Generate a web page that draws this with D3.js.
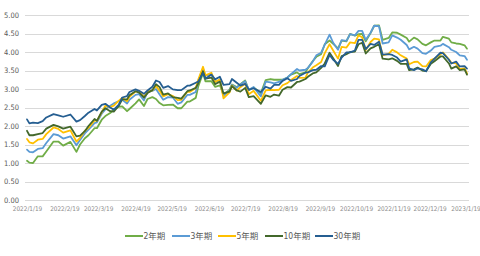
<!DOCTYPE html>
<html><head><meta charset="utf-8">
<script src="https://cdn.jsdelivr.net/npm/d3@7"></script>
<style>
html,body{margin:0;padding:0;background:#fff;}
svg{display:block;}
</style></head>
<body>
<svg id="chart" width="480" height="256"></svg>
<script>
const dates = ["2022-01-19","2022-01-21","2022-01-24","2022-01-28","2022-02-01","2022-02-04","2022-02-10","2022-02-14","2022-02-18","2022-02-24","2022-03-01","2022-03-04","2022-03-08","2022-03-11","2022-03-16","2022-03-18","2022-03-22","2022-03-25","2022-03-29","2022-04-01","2022-04-05","2022-04-08","2022-04-12","2022-04-14","2022-04-19","2022-04-22","2022-04-26","2022-04-29","2022-05-03","2022-05-06","2022-05-09","2022-05-12","2022-05-16","2022-05-20","2022-05-24","2022-05-27","2022-06-01","2022-06-03","2022-06-08","2022-06-10","2022-06-14","2022-06-16","2022-06-21","2022-06-24","2022-06-28","2022-07-01","2022-07-06","2022-07-08","2022-07-12","2022-07-15","2022-07-19","2022-07-22","2022-07-26","2022-08-01","2022-08-05","2022-08-09","2022-08-12","2022-08-16","2022-08-19","2022-08-23","2022-08-26","2022-08-31","2022-09-02","2022-09-07","2022-09-09","2022-09-13","2022-09-16","2022-09-20","2022-09-23","2022-09-27","2022-09-30","2022-10-04","2022-10-07","2022-10-11","2022-10-14","2022-10-18","2022-10-21","2022-10-24","2022-10-27","2022-10-31","2022-11-03","2022-11-07","2022-11-10","2022-11-15","2022-11-18","2022-11-22","2022-11-25","2022-11-30","2022-12-02","2022-12-06","2022-12-09","2022-12-13","2022-12-16","2022-12-20","2022-12-23","2022-12-28","2022-12-30","2023-01-04","2023-01-06","2023-01-10","2023-01-13","2023-01-17","2023-01-19"];

const y2 = [1.06,1.01,1.00,1.18,1.18,1.31,1.58,1.58,1.47,1.57,1.30,1.50,1.67,1.75,1.94,1.94,2.17,2.27,2.35,2.44,2.52,2.53,2.40,2.46,2.61,2.72,2.54,2.73,2.78,2.73,2.62,2.56,2.57,2.58,2.48,2.48,2.66,2.66,2.76,3.06,3.43,3.21,3.21,3.06,3.10,2.84,2.98,3.12,3.05,3.13,3.23,2.97,3.04,2.89,3.24,3.27,3.25,3.25,3.25,3.31,3.39,3.45,3.40,3.45,3.56,3.75,3.87,3.94,4.21,4.31,4.22,4.10,4.31,4.29,4.49,4.44,4.48,4.49,4.29,4.51,4.71,4.72,4.33,4.38,4.53,4.52,4.47,4.38,4.28,4.39,4.34,4.22,4.18,4.26,4.31,4.31,4.41,4.36,4.26,4.23,4.22,4.18,4.09];
const y3 = [1.36,1.30,1.29,1.38,1.40,1.54,1.78,1.75,1.66,1.72,1.48,1.62,1.80,1.90,2.08,2.10,2.33,2.45,2.55,2.61,2.67,2.71,2.61,2.71,2.84,2.86,2.69,2.92,2.95,3.00,2.85,2.71,2.78,2.77,2.60,2.64,2.84,2.84,2.92,3.20,3.56,3.36,3.40,3.19,3.24,2.82,2.96,3.11,3.03,3.12,3.21,2.98,3.05,2.80,3.20,3.18,3.15,3.19,3.25,3.31,3.40,3.54,3.50,3.52,3.57,3.74,3.91,3.98,4.20,4.47,4.25,4.06,4.32,4.30,4.48,4.45,4.57,4.57,4.33,4.52,4.71,4.70,4.23,4.26,4.45,4.39,4.33,4.19,4.07,4.14,4.09,3.97,3.95,4.04,4.14,4.17,4.22,4.13,4.06,4.00,3.91,3.89,3.79];
const y5 = [1.65,1.56,1.53,1.63,1.65,1.78,1.96,1.92,1.82,1.88,1.58,1.68,1.87,1.95,2.15,2.14,2.37,2.55,2.51,2.55,2.68,2.76,2.67,2.79,2.93,2.94,2.78,2.92,2.96,3.08,2.95,2.80,2.86,2.81,2.70,2.71,2.93,2.92,3.03,3.25,3.60,3.37,3.44,3.19,3.26,2.75,2.91,3.09,2.96,3.05,3.14,2.86,2.95,2.68,2.96,2.98,2.97,2.98,3.10,3.16,3.24,3.35,3.30,3.31,3.45,3.58,3.64,3.73,3.97,4.21,4.04,3.82,4.14,4.12,4.26,4.24,4.45,4.40,4.05,4.27,4.36,4.34,3.91,3.95,4.06,3.99,3.91,3.82,3.67,3.73,3.74,3.62,3.61,3.78,3.82,3.94,3.99,3.80,3.71,3.69,3.54,3.56,3.42];
const y10 = [1.87,1.75,1.75,1.78,1.81,1.93,2.03,1.99,1.93,1.98,1.72,1.74,1.86,2.00,2.19,2.14,2.39,2.48,2.40,2.39,2.54,2.72,2.72,2.83,2.94,2.90,2.77,2.89,2.97,3.13,3.05,2.85,2.88,2.78,2.76,2.74,2.94,2.96,3.03,3.15,3.48,3.28,3.31,3.13,3.20,2.88,2.93,3.08,2.96,2.93,3.03,2.78,2.81,2.60,2.83,2.79,2.85,2.82,2.98,3.05,3.04,3.19,3.20,3.27,3.33,3.42,3.45,3.57,3.69,3.98,3.83,3.62,3.89,3.94,4.00,4.01,4.21,4.25,3.96,4.10,4.14,4.21,3.82,3.80,3.83,3.76,3.68,3.68,3.51,3.53,3.58,3.50,3.48,3.68,3.75,3.88,3.88,3.69,3.55,3.61,3.51,3.53,3.39];
const y30 = [2.18,2.07,2.09,2.08,2.13,2.23,2.32,2.29,2.25,2.31,2.12,2.16,2.27,2.36,2.46,2.42,2.57,2.60,2.50,2.44,2.57,2.77,2.81,2.92,2.99,2.95,2.87,2.96,3.06,3.23,3.19,3.03,3.08,2.99,2.97,2.97,3.09,3.09,3.17,3.20,3.43,3.28,3.39,3.26,3.33,3.11,3.13,3.27,3.17,3.09,3.14,2.98,3.02,2.92,3.06,3.01,3.11,3.11,3.22,3.29,3.22,3.27,3.35,3.44,3.45,3.51,3.52,3.62,3.61,3.92,3.79,3.68,3.85,3.99,3.99,4.04,4.33,4.33,4.08,4.22,4.19,4.28,3.93,3.94,3.92,3.85,3.74,3.80,3.56,3.51,3.56,3.53,3.48,3.72,3.82,3.98,3.97,3.79,3.69,3.74,3.61,3.62,3.55];

const seriesNames = ["2年期","3年期","5年期","10年期","30年期"];
const seriesValues = [y2, y3, y5, y10, y30];
const colors = ["#70AD47","#5B9BD5","#FFC000","#43682B","#255E91"];
const yTicks = [0,0.5,1,1.5,2,2.5,3,3.5,4,4.5,5];
const xTickLabels = ["2022/1/19","2022/2/19","2022/3/19","2022/4/19","2022/5/19","2022/6/19","2022/7/19","2022/8/19","2022/9/19","2022/10/19","2022/11/19","2022/12/19","2023/1/19"];

const parse = d3.timeParse("%Y-%m-%d");
const parseLbl = d3.timeParse("%Y/%m/%d");
const svg = d3.select("#chart");
const font = "'Liberation Sans Narrow','DejaVu Sans Condensed','Noto Sans CJK SC',sans-serif";

const x = d3.scaleTime().domain([parse("2022-01-19"), parse("2023-01-19")]).range([27, 467]);
const y = d3.scaleLinear().domain([0,5]).range([200, 15]);

// gridlines
svg.append("g").selectAll("line").data(yTicks).join("line")
  .attr("x1", 25).attr("x2", 469)
  .attr("y1", d => Math.round(y(d)) + 0.5).attr("y2", d => Math.round(y(d)) + 0.5)
  .attr("stroke", "#D9D9D9").attr("stroke-width", 1);

// y axis labels
const yAxis = d3.axisLeft(y).tickValues(yTicks).tickFormat(d3.format(".2f")).tickSize(0).tickPadding(0);
const gy = svg.append("g").attr("transform", "translate(19,0)").call(yAxis);
gy.select(".domain").remove();
gy.selectAll("text").attr("font-family", font).attr("font-size", 7.5).attr("fill", "#595959");

// x axis labels
const xTickDates = xTickLabels.map(s => parseLbl(s));
const xAxis = d3.axisBottom(x).tickValues(xTickDates).tickFormat((d,i) => xTickLabels[i]).tickSize(0).tickPadding(0);
const gx = svg.append("g").attr("transform", "translate(0,206.5)").call(xAxis);
gx.select(".domain").remove();
gx.selectAll("text").attr("font-family", font).attr("font-size", 6.4).attr("fill", "#8C8C8C");
gx.selectAll(".tick").filter((d,i) => i === xTickLabels.length - 1).attr("transform", `translate(${x(xTickDates[xTickLabels.length-1]) - 1},0)`);

// lines
const line = d3.line().x((d,i) => x(parse(dates[i]))).y(d => y(d)).curve(d3.curveLinear);
svg.append("g").selectAll("path").data(seriesValues).join("path")
  .attr("d", d => line(d))
  .attr("fill", "none")
  .attr("stroke", (d,i) => colors[i])
  .attr("stroke-width", 1.8)
  .attr("stroke-linejoin", "round")
  .attr("stroke-linecap", "round");

// legend
const legendX = [125, 172, 218, 265, 315];
const lg = svg.append("g").selectAll("g").data(seriesNames).join("g")
  .attr("transform", (d,i) => `translate(${legendX[i]},236)`);
lg.append("line").attr("x1", 0).attr("x2", 18).attr("y1", 0).attr("y2", 0)
  .attr("stroke", (d,i) => colors[i]).attr("stroke-width", 2);
lg.append("text").attr("x", 18.5).attr("y", 3).text(d => d)
  .attr("font-family", font).attr("font-size", 8.5).attr("fill", "#595959");
</script>
</body></html>
